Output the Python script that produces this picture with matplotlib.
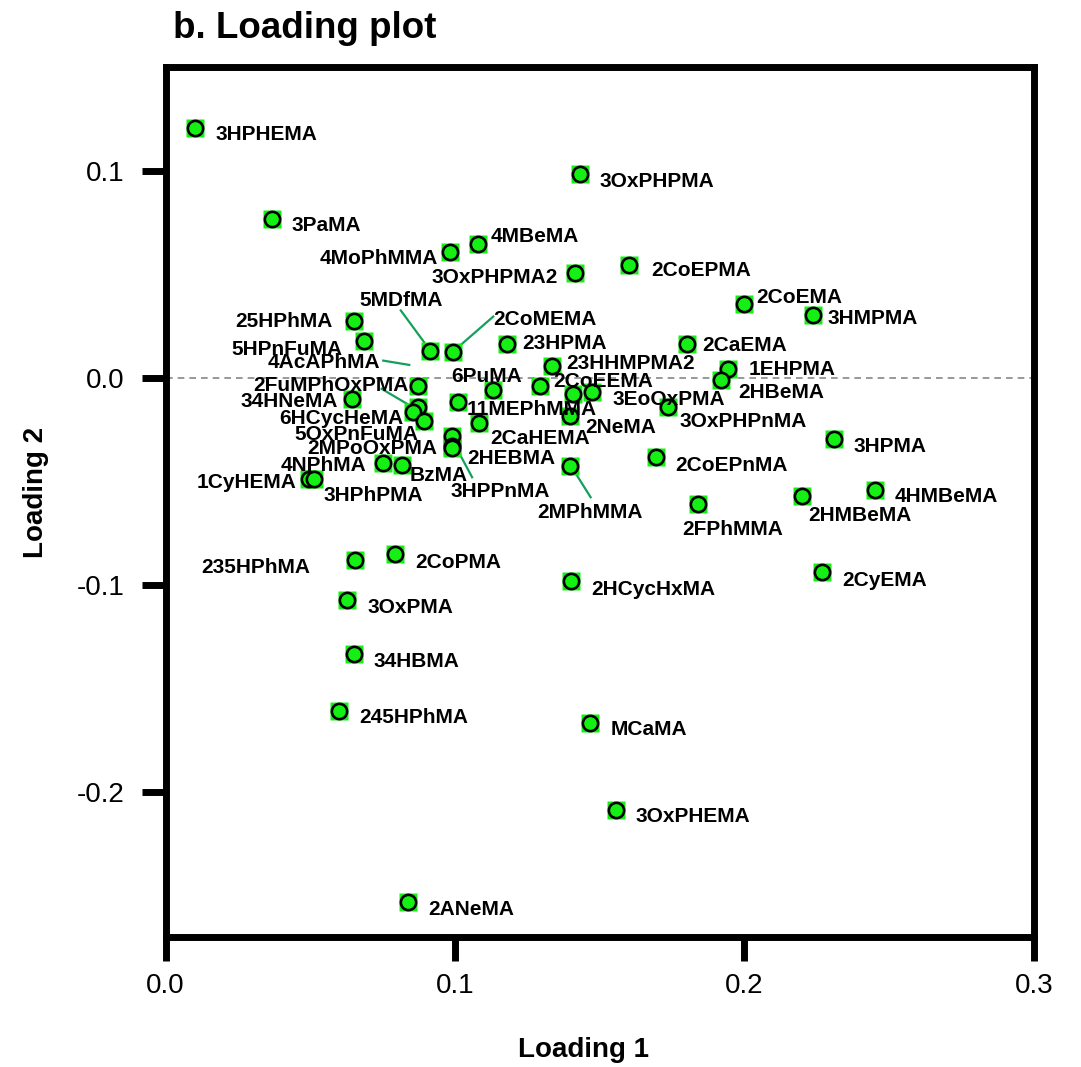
import matplotlib
matplotlib.use("Agg")
import matplotlib.pyplot as plt
import numpy as np

plt.rcParams['font.family'] = ['Liberation Sans', 'DejaVu Sans']

# loadings
names = ['3HPHEMA', '3OxPHPMA', '3PaMA', '4MBeMA', '4MoPhMMA', '3OxPHPMA2', '2CoEPMA',
         '2CoEMA', '3HMPMA', '2CaEMA', '1EHPMA', '2HBeMA', '3EoOxPMA', '3OxPHPnMA',
         '2CoEEMA', '', '2NeMA', '23HHMPMA2', '23HPMA', '5MDfMA', '2CoMEMA', '25HPhMA',
         '5HPnFuMA', '4AcAPhMA', '2FuMPhOxPMA', '34HNeMA', '6HCycHeMA', '5OxPnFuMA',
         '6PuMA', '11MEPhMMA', '2CaHEMA', '2MPoOxPMA', '2HEBMA', '3HPPnMA', '4NPhMA',
         'BzMA', '1CyHEMA', '3HPhPMA', '2MPhMMA', '3HPMA', '2CoEPnMA', '2FPhMMA',
         '2HMBeMA', '4HMBeMA', '235HPhMA', '2CoPMA', '3OxPMA', '34HBMA', '245HPhMA',
         '2HCycHxMA', '2CyEMA', 'MCaMA', '3OxPHEMA', '2ANeMA']
load1 = [0.0102, 0.1432, 0.0367, 0.1080, 0.0983, 0.1415, 0.1602,
         0.1998, 0.2238, 0.1803, 0.1944, 0.1919, 0.1473, 0.1737,
         0.1294, 0.1409, 0.1397, 0.1334, 0.1179, 0.0914, 0.0994, 0.0652,
         0.0687, 0.0873, 0.0873, 0.0643, 0.0856, 0.0893,
         0.1130, 0.1011, 0.1083, 0.0989, 0.0989, 0.0990, 0.0750,
         0.0816, 0.0497, 0.0513, 0.1397, 0.2309, 0.1694, 0.1840,
         0.2198, 0.2451, 0.0655, 0.0793, 0.0628, 0.0651, 0.0600,
         0.1400, 0.2269, 0.1466, 0.1556, 0.0839]
load2 = [0.1204, 0.0984, 0.0767, 0.0643, 0.0605, 0.0506, 0.0544,
         0.0357, 0.0300, 0.0161, 0.0039, -0.0010, -0.0070, -0.0143,
         -0.0039, -0.0079, -0.0184, 0.0058, 0.0163, 0.0126, 0.0122, 0.0272,
         0.0175, -0.0039, -0.0140, -0.0103, -0.0168, -0.0208,
         -0.0059, -0.0119, -0.0221, -0.0280, -0.0329, -0.0338, -0.0414,
         -0.0422, -0.0489, -0.0489, -0.0425, -0.0296, -0.0385, -0.0610,
         -0.0573, -0.0541, -0.0881, -0.0852, -0.1074, -0.1335, -0.1609,
         -0.0984, -0.0941, -0.1668, -0.2088, -0.2535]

# label placement (pixel offset of label from its point; dy downwards)
lab_dx = [20, 19, 20, 12.7, -11.7, -17, 21.5,
          12, 14.4, 15, 20, 17.3, 20.7, 11,
          13.3, 0, 15, 14.3, 15, -29.3, 40, -21.6,
          -21.6, -38.3, -10, -13.4, -10, -5.7,
          -41, 8.4, 11.7, -14.4, 15, -1.7, -16,
          8.3, -12.6, 9.3, -33, 19.3, 19.7, -16,
          6.6, 20, -154.3, 20, 20, 20, 20,
          20, 19.4, 20.7, 19.7, 20]
lab_dy = [4.3, 5.7, 4.7, -10, 4, 2.7, 3.7,
          -8, 0.7, -1, -2.3, 11, 5.2, 12.6,
          -6.7, 0, 10, -4, -2.3, -52.7, -35, -1.4,
          6, -25, -23.3, 0.7, 4, 11.7,
          -15, 5, 13.3, 11, 11, 42.3, 0,
          8.4, 1.7, 15, 45, 5.7, 6.6, 23.4,
          17, 5, 5.7, 6, 5.7, 5, 5,
          6, 5.6, 5, 5, 5]
lab_ha = ['left'] * len(names)
for n in ['4MoPhMMA', '3OxPHPMA2', '25HPhMA', '5HPnFuMA', '4AcAPhMA', '2FuMPhOxPMA',
          '34HNeMA', '6HCycHeMA', '5OxPnFuMA', '2MPoOxPMA', '4NPhMA', '1CyHEMA']:
    lab_ha[names.index(n)] = 'right'
lab_ha[names.index('5MDfMA')] = 'center'

# leader lines: name, start offset, end offset (pixels from point)
leaders = [('5MDfMA', (-29.3, -41), (-6, -9.3)),
           ('2CoMEMA', (40, -35.7), (6.7, -6.7)),
           ('4AcAPhMA', (-35, -25), (-9, -20.7)),
           ('2FuMPhOxPMA', (-36.6, -17.7), (-8.3, -1)),
           ('3HPPnMA', (6.6, 4.7), (20, 29.7)),
           ('2MPhMMA', (5, 6.7), (20.7, 31.7))]

fig = plt.figure(figsize=(10.81, 10.67), dpi=100)
ax = fig.add_axes([0.1531, 0.1223, 0.8034, 0.8149])
ax.set_xlim(0, 0.3)
ax.set_ylim(-0.27, 0.15)

ax.axhline(0, color='#888888', lw=1.2, ls=(0, (4, 3)), zorder=1)

green = '#14f014'
ax.plot(load1, load2, 's', ms=12.5, color=green, mec='none', zorder=3)
ax.plot(load1, load2, 'o', ms=11, mfc=green, mec='black', mew=1.9, zorder=4)

for i, n in enumerate(names):
    if n == '':
        continue
    ax.annotate(n, (load1[i], load2[i]), xytext=(lab_dx[i], -(lab_dy[i] + 7.6)),
                textcoords='offset pixels', ha=lab_ha[i], va='baseline',
                fontsize=15, fontweight='bold', zorder=5)

inv = ax.transData.inverted()
for n, s, e in leaders:
    i = names.index(n)
    p = ax.transData.transform((load1[i], load2[i]))
    p1 = inv.transform((p[0] + s[0], p[1] - s[1]))
    p2 = inv.transform((p[0] + e[0], p[1] - e[1]))
    ax.plot([p1[0], p2[0]], [p1[1], p2[1]], color='#13a05a', lw=1.6, zorder=2)

for s in ax.spines.values():
    s.set_linewidth(5)
    s.set_capstyle('projecting')
ax.set_xticks([0.0, 0.1, 0.2, 0.3])
ax.set_yticks([-0.2, -0.1, 0.0, 0.1])
ax.set_xticklabels(['0.0', '0.1', '0.2', '0.3'])
ax.set_yticklabels(['-0.2', '-0.1', '0.0', '0.1'])
ax.tick_params(axis='both', length=17.5, width=5, labelsize=20, direction='out')
ax.tick_params(axis='x', pad=9)
ax.tick_params(axis='y', pad=12)

fig.text(173 / 1081, 1 - 38 / 1067, 'b. Loading plot', fontsize=26.5, fontweight='bold',
         ha='left', va='baseline')
fig.text(583.5 / 1081, 10 / 1067, 'Loading 1', fontsize=20, fontweight='bold',
         ha='center', va='baseline')
fig.text(36 / 1081, 1 - 492 / 1067, 'Loading 2', fontsize=20, fontweight='bold',
         ha='center', va='center', rotation=90)

plt.savefig('out.png', dpi=100)
